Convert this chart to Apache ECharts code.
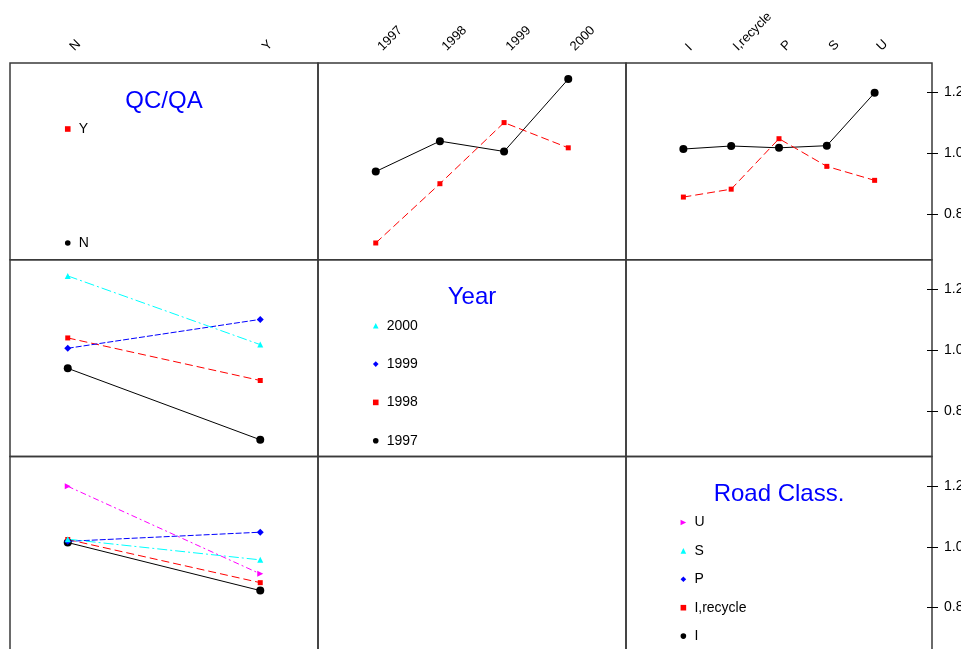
<!DOCTYPE html>
<html><head><meta charset="utf-8">
<script src="https://cdn.jsdelivr.net/npm/echarts@6/dist/echarts.min.js"></script>
<style>html,body{margin:0;padding:0;background:#fff}#c{width:961px;height:649px}</style>
</head><body><div id="c"></div>
<script>
// ---- data ----
const qcLevels = ['N', 'Y'];
const yearLevels = ['1997', '1998', '1999', '2000'];
const roadLevels = ['I', 'I,recycle', 'P', 'S', 'U'];
const qcByYearN = [0.940, 1.040, 1.006, 1.244];
const qcByYearY = [0.705, 0.900, 1.101, 1.018];
const qcByRoadN = [1.014, 1.024, 1.018, 1.025, 1.199];
const qcByRoadY = [0.856, 0.882, 1.048, 0.957, 0.911];
const yTickValues = [0.8, 1.0, 1.2];
const factorTitles = ['QC/QA', 'Year', 'Road Class.'];

// ---- styles ----
const FONT = "'Liberation Sans', Arial, Helvetica, sans-serif";
const colLeft = [10, 318, 626], colWidth = [308, 308, 306];
const rowTop = [63, 259.8, 456.5], rowH = 196.7;
const yMin = 0.65, yMax = 1.297;
const traceStyles = [
  {color: '#000000', symbol: 'circle', size: 8, dash: 'solid', rot: 0},
  {color: '#ff0000', symbol: 'rect', size: 5, dash: [8, 4], rot: 0},
  {color: '#0000ff', symbol: 'diamond', size: 7, dash: [6, 2], rot: 0},
  {color: '#00ffff', symbol: 'triangle', size: 6, dash: [10, 3, 2, 3], rot: 0},
  {color: '#ff00ff', symbol: 'triangle', size: 6, dash: [6, 3, 2, 3], rot: -90}
];
const levels = [qcLevels, yearLevels, roadLevels];

function meanQC(qi, factor, idx) {
  if (factor === 1) return (qi === 0 ? qcByYearN : qcByYearY)[idx];
  return (qi === 0 ? qcByRoadN : qcByRoadY)[idx];
}

const grids = [], xAxes = [], yAxes = [], series = [], legends = [], graphics = [];
for (let r = 0; r < 3; r++) {
  for (let c = 0; c < 3; c++) {
    const g = r * 3 + c;
    grids.push({left: colLeft[c], top: rowTop[r], width: colWidth[c], height: rowH,
      outerBoundsMode: 'none', containLabel: false,
      show: true, borderColor: '#3a3a3a', borderWidth: 1.5, backgroundColor: 'transparent'});
    const n = levels[c].length, pad = 0.3 * (n - 1);
    const labs = levels[c];
    xAxes.push({type: 'value', gridIndex: g, min: 1 - pad, max: n + pad, position: 'top',
      show: r === 0, splitLine: {show: false}, axisLine: {show: false, onZero: false}, axisTick: {show: false},
      axisLabel: {show: r === 0, rotate: -45, margin: 10, padding: [0, 0, 0, 6], fontSize: 13,
        color: '#000', fontFamily: FONT,
        customValues: labs.map((_, i) => i + 1), formatter: v => labs[Math.round(v) - 1]}});
    yAxes.push({type: 'value', gridIndex: g, min: yMin, max: yMax, position: 'right',
      show: c === 2, splitLine: {show: false}, axisLine: {show: false, onZero: false},
      axisTick: {show: true, length: 6, customValues: yTickValues, lineStyle: {color: '#000', width: 1}},
      axisLabel: {show: true, margin: 12, fontSize: 14, color: '#000', fontFamily: FONT,
        customValues: yTickValues, formatter: v => v.toFixed(1)}});
  }
}
// overlay grids on the right column carrying the inner half of the ticks
for (let r = 0; r < 3; r++) {
  const g = grids.length;
  grids.push({left: colLeft[2], top: rowTop[r], width: colWidth[2], height: rowH,
    outerBoundsMode: 'none', containLabel: false, show: false});
  xAxes.push({type: 'value', gridIndex: g, min: 0, max: 1, show: false, axisLine: {onZero: false}});
  yAxes.push({type: 'value', gridIndex: g, min: yMin, max: yMax, position: 'right',
    splitLine: {show: false}, axisLine: {show: false, onZero: false},
    axisTick: {show: true, inside: true, length: 5, customValues: yTickValues, lineStyle: {color: '#000', width: 1}},
    axisLabel: {show: false}});
}

function addSeries(g, name, st, data) {
  series.push({type: 'line', name, xAxisIndex: g, yAxisIndex: g, data,
    symbol: st.symbol, symbolSize: st.size, symbolRotate: st.rot, showSymbol: true,
    itemStyle: {color: st.color}, lineStyle: {color: st.color, width: 1, type: st.dash},
    emphasis: {disabled: true}, animation: false, z: 3});
}
qcLevels.forEach((q, qi) => {
  addSeries(1, q, traceStyles[qi], yearLevels.map((_, i) => [i + 1, meanQC(qi, 1, i)]));
  addSeries(2, q, traceStyles[qi], roadLevels.map((_, i) => [i + 1, meanQC(qi, 2, i)]));
});
yearLevels.forEach((y, yi) => {
  addSeries(3, y, traceStyles[yi], qcLevels.map((_, qi) => [qi + 1, meanQC(qi, 1, yi)]));
});
roadLevels.forEach((rd, ri) => {
  addSeries(6, rd, traceStyles[ri], qcLevels.map((_, qi) => [qi + 1, meanQC(qi, 2, ri)]));
});

const legendSpacing = [114, 38.3, 28.4];
for (let f = 0; f < 3; f++) {
  graphics.push({type: 'text', x: colLeft[f] + colWidth[f] / 2, y: rowTop[f] + 38,
    style: {text: factorTitles[f], fill: '#0000ff', font: '24px ' + FONT, align: 'center', verticalAlign: 'middle'}});
  const n = levels[f].length, pad = 0.3 * (n - 1);
  const markerX = colLeft[f] + colWidth[f] * (pad / (n - 1 + 2 * pad));
  legends.push({orient: 'vertical', left: markerX - 6, top: rowTop[f] + 66 - 7, padding: 0,
    itemWidth: 12, itemHeight: 7, itemGap: legendSpacing[f] - 14, selectedMode: false,
    lineStyle: {color: 'rgba(0,0,0,0)', width: 0},
    textStyle: {fontSize: 14, lineHeight: 14, color: '#000', fontFamily: FONT},
    data: levels[f].slice().reverse()});
}

const chart = echarts.init(document.getElementById('c'), null, {renderer: 'canvas'});
chart.setOption({
  backgroundColor: '#ffffff', animation: false,
  textStyle: {fontFamily: FONT},
  grid: grids, xAxis: xAxes, yAxis: yAxes, series, legend: legends, graphic: graphics
});
</script></body></html>
